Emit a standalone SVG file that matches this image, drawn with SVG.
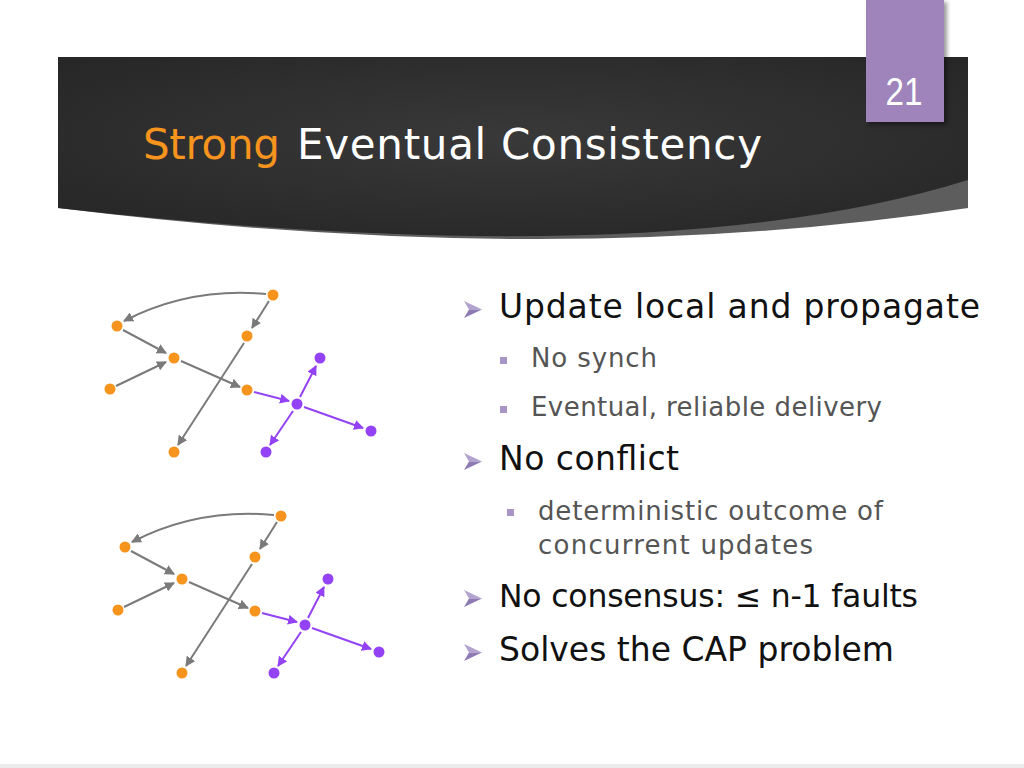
<svg xmlns="http://www.w3.org/2000/svg" width="1024" height="768" viewBox="0 0 1024 768">
<style>
.main{font-family:"DejaVu Sans",sans-serif;font-size:33px;fill:#111111}
.sub{font-family:"DejaVu Sans",sans-serif;font-size:26px;fill:#555555}
.title{font-family:"DejaVu Sans",sans-serif;font-size:42px}
.o{fill:#f7941d}
.p{fill:#9343f5}
.eg{fill:none;stroke:#7a7a7a;stroke-width:2;marker-end:url(#ag)}
.ep{fill:none;stroke:#9343f5;stroke-width:2;marker-end:url(#ap)}
.arr1{fill:#b3a3cf}
.arr2{fill:#8e7bb3}
.sq{fill:#a895c6}
</style>
<defs>
<radialGradient id="bg" cx="0.5" cy="0.45" r="0.65">
<stop offset="0" stop-color="#393939"/>
<stop offset="1" stop-color="#272727"/>
</radialGradient>
<marker id="ag" viewBox="0 0 10 10" refX="9" refY="5" markerWidth="5" markerHeight="5" orient="auto" markerUnits="strokeWidth"><path d="M0,0 L10,5 L0,10 z" fill="#7a7a7a"/></marker>
<marker id="ap" viewBox="0 0 10 10" refX="9" refY="5" markerWidth="5" markerHeight="5" orient="auto" markerUnits="strokeWidth"><path d="M0,0 L10,5 L0,10 z" fill="#9343f5"/></marker>
<filter id="sh" x="-20%" y="-20%" width="140%" height="140%"><feGaussianBlur stdDeviation="2"/></filter>
</defs>
<rect x="0" y="0" width="1024" height="768" fill="#ffffff"/>
<rect x="0" y="764" width="1024" height="4" fill="#ececec"/>

<!-- banner -->
<g id="banner">
<path d="M58,57 H968 V208 Q560,270 58,208 Z" fill="#5d5d5d"/>
<path d="M58,57 H968 V180 Q660,276 58,208 Z" fill="url(#bg)"/>
<rect x="869" y="2" width="78" height="123" fill="#000000" opacity="0.4" filter="url(#sh)"/>
<rect x="866" y="0" width="78" height="122" fill="#9e84bb"/>
<text x="904" y="105" text-anchor="middle" font-family="Liberation Sans, sans-serif" font-size="38" fill="#ffffff" textLength="37" lengthAdjust="spacingAndGlyphs">21</text>
<text class="title" x="143" y="159" fill="#f7941d" textLength="137">Strong</text>
<text class="title" x="297" y="159" fill="#ffffff" textLength="465">Eventual Consistency</text>
</g>

<!-- bullets -->
<g id="bullets">
<g id="b1"><polygon class="arr1" points="464,301 482,309.5 469,309.5"/><polygon class="arr2" points="464,318 482,309.5 469,309.5"/>
<text class="main" x="499" y="318" textLength="481">Update local and propagate</text></g>
<g id="b1a"><rect class="sq" x="500" y="357" width="7" height="7"/><text class="sub" x="531" y="367" textLength="126">No synch</text></g>
<g id="b1b"><rect class="sq" x="500" y="406" width="7" height="7"/><text class="sub" x="531" y="416" textLength="351">Eventual, reliable delivery</text></g>
<g id="b2"><polygon class="arr1" points="464,453 482,461.5 469,461.5"/><polygon class="arr2" points="464,470 482,461.5 469,461.5"/>
<text class="main" x="499" y="470" textLength="180">No conflict</text></g>
<g id="b2a"><rect class="sq" x="507" y="509" width="7" height="7"/><text class="sub" x="538" y="520" textLength="345">deterministic outcome of</text>
<text class="sub" x="538" y="554" textLength="275">concurrent updates</text></g>
<g id="b3"><polygon class="arr1" points="464,590 482,598.5 469,598.5"/><polygon class="arr2" points="464,607 482,598.5 469,598.5"/>
<text class="main" x="499" y="607" style="font-size:31.5px" textLength="419">No consensus: ≤ n-1 faults</text></g>
<g id="b4"><polygon class="arr1" points="464,644 482,652.5 469,652.5"/><polygon class="arr2" points="464,661 482,652.5 469,652.5"/>
<text class="main" x="499" y="661" textLength="395">Solves the CAP problem</text></g>
</g>

<!-- graph 1 -->
<g id="graph1">
<g id="connectors1">
<path class="eg" d="M266,294 Q190,287 124,321"/>
<path class="eg" d="M269,301 L252,328"/>
<path class="eg" d="M123,330 L166,353"/>
<path class="eg" d="M116,386 L166,362"/>
<path class="eg" d="M181,361 L240,387"/>
<path class="eg" d="M244,343 L178,445"/>
<path class="ep" d="M254,392 L289,401"/>
<path class="ep" d="M300,397 L316,366"/>
<path class="ep" d="M304,407 L363,428"/>
<path class="ep" d="M293,411 L270,445"/>
</g>
<g id="g1-a"><circle class="o" cx="273" cy="295" r="5.5"/></g>
<g id="g1-b"><circle class="o" cx="117" cy="326" r="5.5"/></g>
<g id="g1-c"><circle class="o" cx="247" cy="336" r="5.5"/></g>
<g id="g1-d"><circle class="o" cx="174" cy="358" r="5.5"/></g>
<g id="g1-e"><circle class="o" cx="110" cy="389" r="5.5"/></g>
<g id="g1-f"><circle class="o" cx="247" cy="390" r="5.5"/></g>
<g id="g1-k"><circle class="o" cx="174" cy="452" r="5.5"/></g>
<g id="g1-g"><circle class="p" cx="320" cy="358" r="5.5"/></g>
<g id="g1-h"><circle class="p" cx="297" cy="404" r="5.5"/></g>
<g id="g1-i"><circle class="p" cx="371" cy="431" r="5.5"/></g>
<g id="g1-j"><circle class="p" cx="266" cy="452" r="5.5"/></g>
</g>

<!-- graph 2 -->
<g id="graph2" transform="translate(8,221)">
<g id="connectors2">
<path class="eg" d="M266,294 Q190,287 124,321"/>
<path class="eg" d="M269,301 L252,328"/>
<path class="eg" d="M123,330 L166,353"/>
<path class="eg" d="M116,386 L166,362"/>
<path class="eg" d="M181,361 L240,387"/>
<path class="eg" d="M244,343 L178,445"/>
<path class="ep" d="M254,392 L289,401"/>
<path class="ep" d="M300,397 L316,366"/>
<path class="ep" d="M304,407 L363,428"/>
<path class="ep" d="M293,411 L270,445"/>
</g>
<g id="g2-a"><circle class="o" cx="273" cy="295" r="5.5"/></g>
<g id="g2-b"><circle class="o" cx="117" cy="326" r="5.5"/></g>
<g id="g2-c"><circle class="o" cx="247" cy="336" r="5.5"/></g>
<g id="g2-d"><circle class="o" cx="174" cy="358" r="5.5"/></g>
<g id="g2-e"><circle class="o" cx="110" cy="389" r="5.5"/></g>
<g id="g2-f"><circle class="o" cx="247" cy="390" r="5.5"/></g>
<g id="g2-k"><circle class="o" cx="174" cy="452" r="5.5"/></g>
<g id="g2-g"><circle class="p" cx="320" cy="358" r="5.5"/></g>
<g id="g2-h"><circle class="p" cx="297" cy="404" r="5.5"/></g>
<g id="g2-i"><circle class="p" cx="371" cy="431" r="5.5"/></g>
<g id="g2-j"><circle class="p" cx="266" cy="452" r="5.5"/></g>
</g>
</svg>
